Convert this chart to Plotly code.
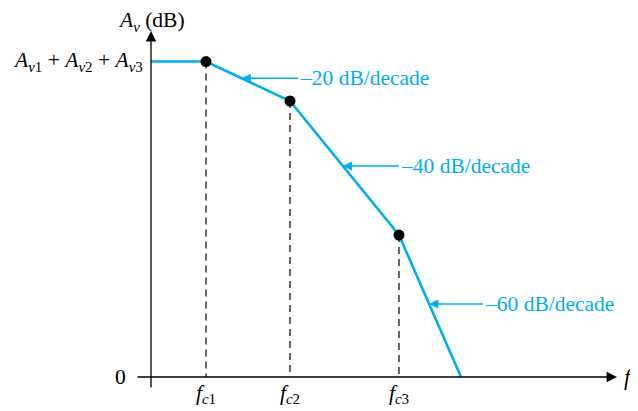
import numpy as np
import plotly.graph_objects as go

# ---- data (arbitrary drawing units: horizontal = frequency position, vertical = gain) ----
f_pos = [0, 55, 139, 248, 310]          # start, fc1, fc2, fc3, zero-crossing
gain = [320, 320, 280, 144, 0]          # Av1+Av2+Av3 ... 0 dB
corner_labels = ["<i>f</i><sub><i>c</i>1</sub>", "<i>f</i><sub><i>c</i>2</sub>", "<i>f</i><sub><i>c</i>3</sub>"]
mid_label = "<i>A</i><sub><i>v</i>1</sub> + <i>A</i><sub><i>v</i>2</sub> + <i>A</i><sub><i>v</i>3</sub>"
slope_texts = ["–20 dB/decade", "–40 dB/decade", "–60 dB/decade"]
slope_levels = [303, 214, 74]           # gain level where each pointer hits the curve
slope_text_x = [153, 254, 338]          # start of each slope label

BLUE = "#00AEEF"
FONT = "Liberation Serif"
FS = 21.5

fig = go.Figure()

# dashed drop lines from corners to the f axis
for i in range(1, 4):
    fig.add_trace(go.Scatter(x=[f_pos[i], f_pos[i]], y=[gain[i], 0], mode="lines",
                             line=dict(color="black", width=1.2, dash="7px,5px"),
                             hoverinfo="skip", showlegend=False))

# asymptotic response
fig.add_trace(go.Scatter(x=f_pos, y=gain, mode="lines",
                         line=dict(color=BLUE, width=2.6), showlegend=False))
# corner points
fig.add_trace(go.Scatter(x=f_pos[1:4], y=gain[1:4], mode="markers",
                         marker=dict(color="black", size=11), showlegend=False))

# slope pointers
seg_x = f_pos[::-1]
seg_y = gain[::-1]
for txt, lvl, tx in zip(slope_texts, slope_levels, slope_text_x):
    tip = float(np.interp(lvl, seg_y, seg_x))
    fig.add_annotation(x=tip, y=lvl, ax=tx - 6, ay=lvl, axref="x", ayref="y",
                       xref="x", yref="y", text=txt, xanchor="left",
                       showarrow=True, arrowhead=2, arrowsize=1.3, arrowwidth=1.4,
                       arrowcolor=BLUE, font=dict(family=FONT, size=FS, color=BLUE))

# axes with arrowheads
fig.add_annotation(xref="paper", yref="paper", x=1, y=0, ax=-481, ay=0,
                   axref="pixel", ayref="pixel", text="", showarrow=True,
                   arrowhead=2, arrowsize=1.6, arrowwidth=1.3, arrowcolor="black")
fig.add_annotation(xref="paper", yref="paper", x=0, y=1, ax=0, ay=358,
                   axref="pixel", ayref="pixel", text="", showarrow=True,
                   arrowhead=2, arrowsize=1.6, arrowwidth=1.3, arrowcolor="black")

# axis titles and level labels
fig.add_annotation(xref="paper", yref="paper", x=0, y=1, yshift=10, showarrow=False,
                   text="<i>A</i><sub><i>v</i></sub> (dB)", xanchor="center", yanchor="middle",
                   font=dict(family=FONT, size=FS, color="black"))
fig.add_annotation(xref="paper", yref="paper", x=1, y=0, xshift=5, showarrow=False,
                   text="<i>f</i>", xanchor="left", yanchor="middle",
                   font=dict(family=FONT, size=FS + 1, color="black"))
fig.add_annotation(xref="paper", yref="y", x=0, y=0, xshift=-31, showarrow=False,
                   text="0", xanchor="center", yanchor="middle",
                   font=dict(family=FONT, size=FS, color="black"))
fig.add_annotation(xref="paper", yref="y", x=0, y=gain[0], xshift=-6, showarrow=False,
                   text=mid_label, xanchor="right", yanchor="middle",
                   font=dict(family=FONT, size=FS, color="black"))

# page has an 8px body margin, so the figure is offset to compensate
fig.update_layout(
    width=638, height=411,
    margin=dict(l=143, r=29, t=23, b=37),
    paper_bgcolor="white", plot_bgcolor="white",
    showlegend=False,
    xaxis=dict(range=[0, 466], showgrid=False, zeroline=False, showline=False,
               tickvals=f_pos[1:4], ticktext=corner_labels, ticks="",
               tickfont=dict(family=FONT, size=FS, color="black")),
    yaxis=dict(range=[0, 351], showgrid=False, zeroline=False, showline=False,
               showticklabels=False, ticks=""),
)

fig.write_html("out.html")
